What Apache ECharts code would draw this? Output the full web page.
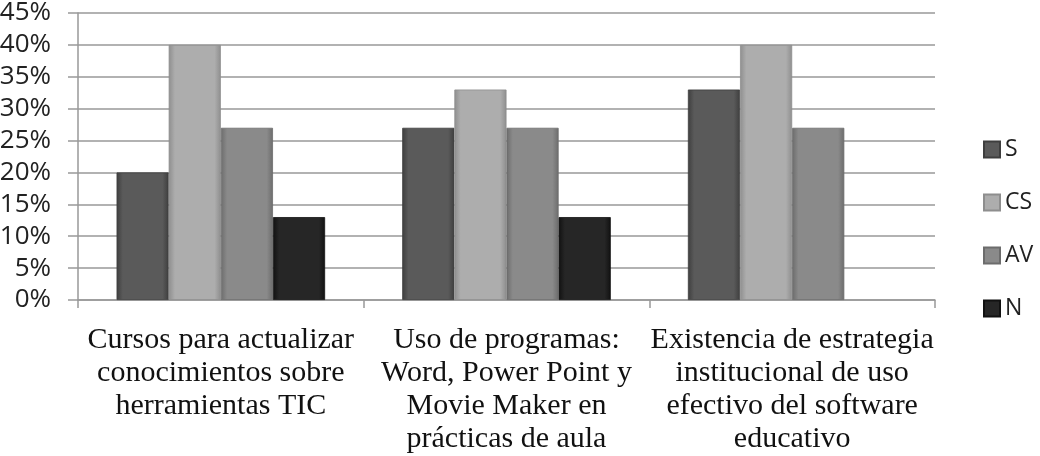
<!DOCTYPE html>
<html>
<head>
<meta charset="utf-8">
<script src="https://cdn.jsdelivr.net/npm/echarts@6/dist/echarts.min.js"></script>
<style>
html,body{margin:0;padding:0;background:#fff;}
#chart{width:1040px;height:456px;}
</style>
</head>
<body>
<div id="chart"></div>
<script>
const categories = [
  "Cursos para actualizar\nconocimientos sobre\nherramientas TIC",
  "Uso de programas:\nWord, Power Point y\nMovie Maker en\nprácticas de aula",
  "Existencia de estrategia\ninstitucional de uso\nefectivo del software\neducativo"
];
const seriesNames = ["S", "CS", "AV", "N"];
const valuesS  = [20, 27, 33];
const valuesCS = [40, 33, 40];
const valuesAV = [27, 27, 27];
const valuesN  = [13, 13, null];
const yTicks = [0, 5, 10, 15, 20, 25, 30, 35, 40, 45];

const baseColors = ["#5a5a5a", "#adadad", "#8a8a8a", "#262626"];
const edgeColors = ["#3e3e3e", "#8e8e8e", "#6c6c6c", "#111111"];

function grad(i) {
  return {
    type: 'linear', x: 0, y: 0, x2: 1, y2: 0,
    colorStops: [
      {offset: 0, color: edgeColors[i]},
      {offset: 0.12, color: baseColors[i]},
      {offset: 0.88, color: baseColors[i]},
      {offset: 1, color: edgeColors[i]}
    ]
  };
}

const allValues = [valuesS, valuesCS, valuesAV, valuesN];
const series = seriesNames.map((n, i) => ({
  name: n,
  type: 'bar',
  data: allValues[i],
  barGap: '0%',
  barCategoryGap: '27%',
  itemStyle: { color: grad(i), borderColor: edgeColors[i], borderWidth: 0.8 }
}));

const chart = echarts.init(document.getElementById('chart'));
chart.setOption({
  animation: false,
  backgroundColor: '#ffffff',
  grid: { left: 78, right: 105, top: 13, bottom: 156, containLabel: false, outerBoundsMode: 'none' },
  legend: {
    orient: 'vertical',
    left: 983,
    top: 138,
    padding: 0,
    itemWidth: 16,
    itemHeight: 16,
    itemGap: 30,
    icon: 'rect',
    textStyle: { fontFamily: 'Open Sans', fontSize: 23, color: '#222', lineHeight: 20, padding: [0,0,0,0] },
    data: seriesNames
  },
  xAxis: {
    type: 'category',
    data: categories,
    axisLine: { lineStyle: { color: '#999', width: 1.5 } },
    axisTick: { show: true, length: 8, lineStyle: { color: '#999', width: 1.5 } },
    axisLabel: {
      interval: 0,
      margin: 24,
      fontFamily: 'Liberation Serif',
      fontSize: 30,
      lineHeight: 33,
      color: '#111',
      align: 'center'
    }
  },
  yAxis: {
    type: 'value',
    min: yTicks[0],
    max: yTicks[yTicks.length - 1],
    interval: 5,
    axisLine: { show: true, lineStyle: { color: '#999', width: 1.5 } },
    axisTick: { show: true, length: 10, lineStyle: { color: '#999', width: 1.5 } },
    splitLine: { lineStyle: { color: '#999', width: 1.5 } },
    axisLabel: {
      margin: 27,
      fontFamily: 'Open Sans',
      fontSize: 26,
      color: '#222',
      formatter: '{value}%'
    }
  },
  series: series
});
</script>
</body>
</html>
